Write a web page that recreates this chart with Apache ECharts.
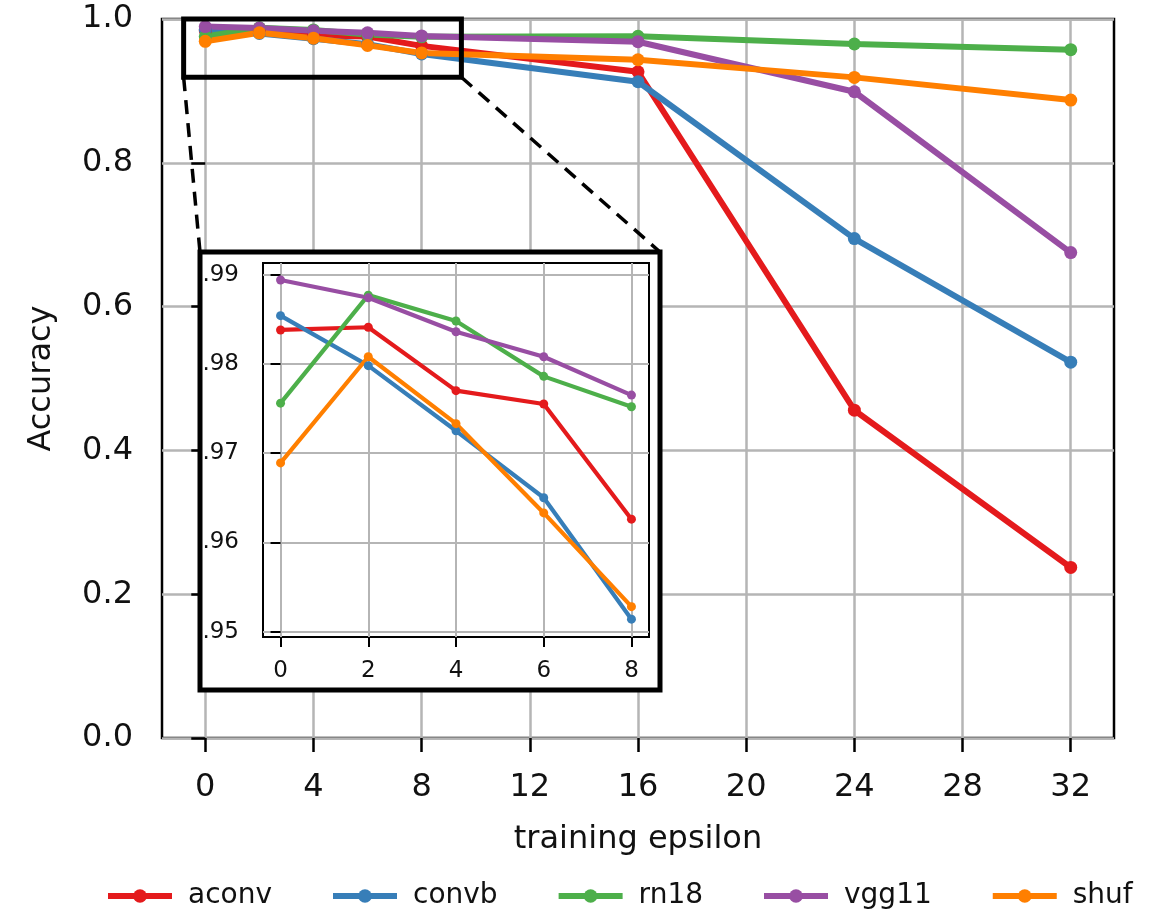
<!DOCTYPE html>
<html><head><meta charset="utf-8">
<script src="https://cdn.jsdelivr.net/npm/echarts@6/dist/echarts.min.js"></script>
<style>html,body{margin:0;padding:0;background:#fff}#c{width:1174px;height:912px}</style>
</head><body><div id="c"></div>
<script>
const epsMain = [0, 2, 4, 6, 8, 16, 24, 32];
const epsInset = [0, 2, 4, 6, 8];
const seriesNames = ['aconv', 'convb', 'rn18', 'vgg11', 'shuf'];
const aconv = [0.9838, 0.9841, 0.9770, 0.9755, 0.9626, 0.9266, 0.4559, 0.2372];
const convb = [0.9854, 0.9798, 0.9725, 0.9650, 0.9514, 0.9127, 0.6946, 0.5227];
const rn18  = [0.9756, 0.9877, 0.9848, 0.9786, 0.9752, 0.9759, 0.9652, 0.9573];
const vgg11 = [0.9894, 0.9874, 0.9836, 0.9808, 0.9765, 0.9684, 0.8988, 0.6751];
const shuf  = [0.9689, 0.9808, 0.9733, 0.9633, 0.9528, 0.9433, 0.9188, 0.8872];
const mainXTicks = [0, 4, 8, 12, 16, 20, 24, 28, 32];
const insetXTicks = [0, 2, 4, 6, 8];
const insetYTicks = [0.95, 0.96, 0.97, 0.98, 0.99];
const zoomX = [-0.8, 9.47];
const zoomY = [0.919, 1.0];

const colors = ['#e41a1c', '#377eb8', '#4daf4a', '#984ea3', '#ff7f00'];
const values = [aconv, convb, rn18, vgg11, shuf];
const FONT = 'DejaVu Sans';
const txt = '#111';

const chart = echarts.init(document.getElementById('c'), null, {renderer: 'canvas'});

const series = [];
values.forEach((arr, k) => {
  series.push({
    name: seriesNames[k], type: 'line', xAxisIndex: 0, yAxisIndex: 0,
    data: epsMain.map((x, i) => [x, arr[i]]),
    symbol: 'circle', symbolSize: 13, z: 2,
    lineStyle: {color: colors[k], width: 6},
    itemStyle: {color: colors[k]},
    animation: false
  });
});
values.forEach((arr, k) => {
  series.push({
    name: seriesNames[k], type: 'line', xAxisIndex: 1, yAxisIndex: 1,
    data: epsInset.map((x, i) => [x, arr[i]]),
    symbol: 'circle', symbolSize: 9, z: 8, clip: true,
    lineStyle: {color: colors[k], width: 4.2},
    itemStyle: {color: colors[k]},
    animation: false
  });
});

const option = {
  animation: false,
  backgroundColor: '#fff',
  textStyle: {fontFamily: FONT},
  grid: [
    {left: 162, right: 60, top: 19, bottom: 174, show: true, borderColor: '#000', borderWidth: 2.5, backgroundColor: 'transparent', z: 0},
    {left: 263, top: 263, width: 386, height: 374, show: true, borderColor: '#000', borderWidth: 2, backgroundColor: '#fff', z: 5}
  ],
  xAxis: [
    {
      type: 'value', gridIndex: 0, min: -1.6, max: 33.6,
      axisLine: {show: false},
      axisTick: {show: true, customValues: mainXTicks, length: 14, lineStyle: {color: '#000', width: 2.5}},
      axisLabel: {customValues: mainXTicks, fontSize: 32, color: txt, margin: 34, fontFamily: FONT},
      splitLine: {show: true, lineStyle: {color: '#b5b5b5', width: 2.5}},
      name: 'training epsilon', nameLocation: 'middle', nameGap: 86,
      nameTextStyle: {fontSize: 32, color: txt, fontFamily: FONT}
    },
    {
      type: 'value', gridIndex: 1, min: -0.4, max: 8.4, z: 6,
      axisLine: {show: false},
      axisTick: {show: true, customValues: insetXTicks, length: 10, lineStyle: {color: '#000', width: 2}},
      axisLabel: {customValues: insetXTicks, fontSize: 23, color: txt, margin: 23, fontFamily: FONT},
      splitLine: {show: true, lineStyle: {color: '#b5b5b5', width: 2}}
    }
  ],
  yAxis: [
    {
      type: 'value', gridIndex: 0, min: 0, max: 1, interval: 0.2,
      axisLine: {show: false},
      axisTick: {show: true, length: 14, lineStyle: {color: '#000', width: 2.5}},
      axisLabel: {fontSize: 32, color: txt, margin: 29, fontFamily: FONT, formatter: v => v.toFixed(1)},
      splitLine: {show: true, lineStyle: {color: '#b5b5b5', width: 2.5}},
      name: 'Accuracy', nameLocation: 'middle', nameGap: 104,
      nameTextStyle: {fontSize: 32, color: txt, fontFamily: FONT}
    },
    {
      type: 'value', gridIndex: 1, min: 0.9494, max: 0.9913, z: 6,
      axisLine: {show: false},
      axisTick: {show: true, customValues: insetYTicks, length: 10, lineStyle: {color: '#000', width: 2}},
      axisLabel: {customValues: insetYTicks, fontSize: 23, color: txt, margin: 24, fontFamily: FONT,
        formatter: v => v.toFixed(2).replace(/^0/, '')},
      splitLine: {show: true, lineStyle: {color: '#b5b5b5', width: 2}}
    }
  ],
  legend: {
    data: seriesNames, left: 100, top: 877, itemWidth: 64, itemHeight: 17, itemGap: 58,
    lineStyle: {width: 6},
    textStyle: {fontSize: 28, color: txt, fontFamily: FONT, padding: [0, 0, 0, 11]}
  },
  series: series
};
chart.setOption(option);

const p0 = chart.convertToPixel({gridIndex: 0}, [zoomX[0], zoomY[0]]);
const p1 = chart.convertToPixel({gridIndex: 0}, [zoomX[1], zoomY[1]]);
const frame = {x: 200, y: 252, w: 460, h: 438};
chart.setOption({
  graphic: {elements: [
    {type: 'rect', z: 3, silent: true,
      shape: {x: p0[0], y: p1[1], width: p1[0] - p0[0], height: p0[1] - p1[1]},
      style: {fill: 'none', stroke: '#000', lineWidth: 5}},
    {type: 'line', z: 3, silent: true,
      shape: {x1: p0[0], y1: p0[1], x2: frame.x, y2: frame.y},
      style: {stroke: '#000', lineWidth: 3.5, lineDash: [14, 9]}},
    {type: 'line', z: 3, silent: true,
      shape: {x1: p1[0], y1: p0[1], x2: frame.x + frame.w, y2: frame.y},
      style: {stroke: '#000', lineWidth: 3.5, lineDash: [14, 9]}},
    {type: 'rect', z: 4, silent: true,
      shape: {x: frame.x, y: frame.y, width: frame.w, height: frame.h},
      style: {fill: '#fff', stroke: '#000', lineWidth: 5}}
  ]}
});
</script>
</body></html>
